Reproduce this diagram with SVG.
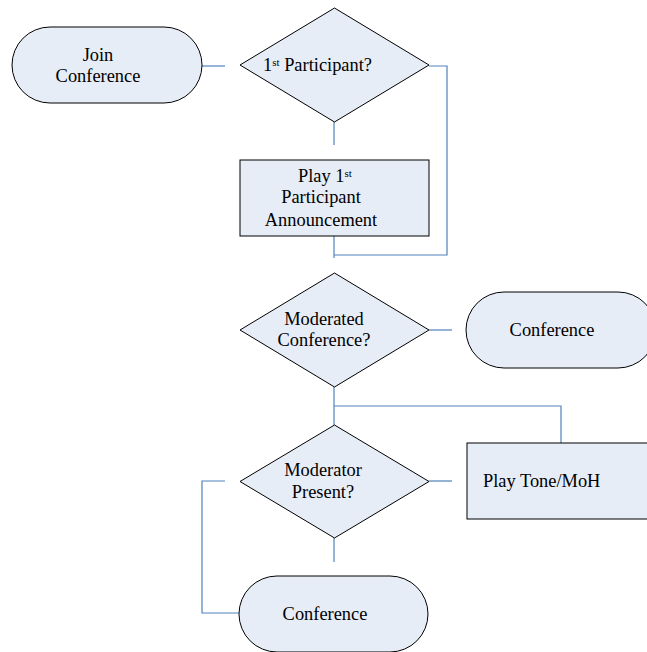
<svg xmlns="http://www.w3.org/2000/svg" width="647" height="652" viewBox="0 0 647 652">
<style>
.n{fill:#E7EDF7;stroke:#000;stroke-width:1}
.c{fill:none;stroke:#4F81BD;stroke-width:1.2}
text{font-family:"Liberation Serif","Times New Roman",serif;font-size:18.4px;fill:#000}
.m{text-anchor:middle}
.s{font-size:11px}
</style>
<rect width="647" height="652" fill="#fff"/>
<g id="connectors">
<path class="c" d="M202,66H225"/>
<path class="c" d="M334,122V145"/>
<path class="c" d="M429,66H447V255H334"/>
<path class="c" d="M334,236V258"/>
<path class="c" d="M429,330H452"/>
<path class="c" d="M334,387V425"/>
<path class="c" d="M334,406H561V443"/>
<path class="c" d="M429,481H452"/>
<path class="c" d="M225,481H202V613H239"/>
<path class="c" d="M334,538V562"/>
</g>
<g id="join">
<rect class="n" x="12" y="27" width="190" height="76" rx="38"/>
<text class="m" x="98" y="61">Join</text>
<text class="m" x="98" y="82">Conference</text>
</g>
<g id="first">
<polygon class="n" points="334.5,8 429,65 334.5,122 240,65"/>
<text x="263" y="71">1<tspan class="s" dy="-5">st</tspan><tspan dy="5"> Participant?</tspan></text>
</g>
<g id="play1">
<rect class="n" x="240" y="160" width="189" height="76"/>
<text x="298" y="182">Play 1<tspan class="s" dy="-5">st</tspan></text>
<text class="m" x="321" y="203">Participant</text>
<text class="m" x="321" y="226">Announcement</text>
</g>
<g id="moderated">
<polygon class="n" points="334.5,273 429,330 334.5,387 240,330"/>
<text class="m" x="324" y="325">Moderated</text>
<text class="m" x="324" y="346">Conference?</text>
</g>
<g id="conf1">
<rect class="n" x="466" y="292" width="190" height="76" rx="38"/>
<text class="m" x="552" y="336">Conference</text>
</g>
<g id="present">
<polygon class="n" points="334.5,425 429,481.5 334.5,538 240,481.5"/>
<text class="m" x="323" y="476">Moderator</text>
<text class="m" x="323" y="498">Present?</text>
</g>
<g id="tone">
<rect class="n" x="467" y="443" width="190" height="76"/>
<text x="483" y="487">Play Tone/MoH</text>
</g>
<g id="conf2">
<rect class="n" x="239" y="576" width="189" height="76" rx="38"/>
<text class="m" x="325" y="620">Conference</text>
</g>
</svg>
